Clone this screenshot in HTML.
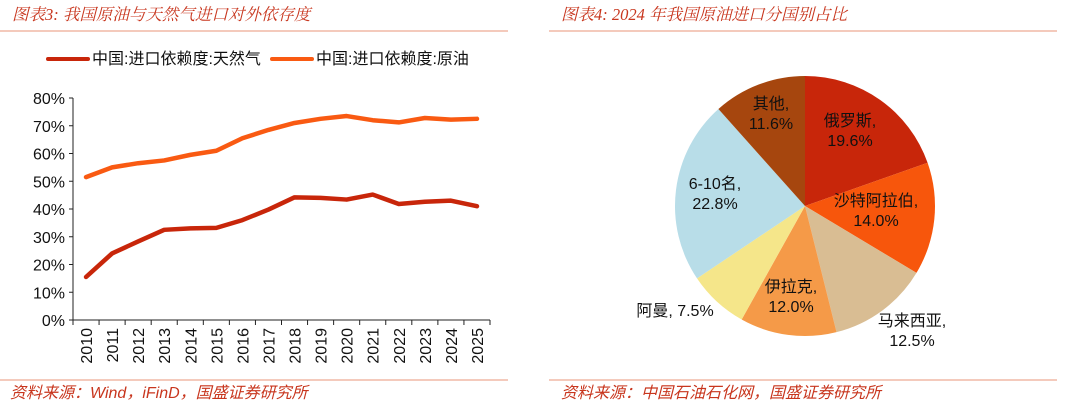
<!DOCTYPE html>
<html><head><meta charset="utf-8"><style>
body{margin:0;width:1080px;height:407px;background:#fff;overflow:hidden;font-family:"Liberation Sans","Noto Sans CJK SC",sans-serif}
svg{display:block}
.t{font-family:"Liberation Serif","Noto Serif CJK SC",serif;font-style:italic;fill:#c8361e;font-size:16.5px}
.s{font-family:"Liberation Sans","Noto Sans CJK SC",sans-serif;font-style:italic;fill:#c8361e;font-size:16px}
.ax{font-size:16px;fill:#111}
.pl{font-size:16px;fill:#111}
</style></head><body>
<svg id="c" width="1080" height="407">
<text class="t" x="12" y="20">图表3:  我国原油与天然气进口对外依存度</text>
<line x1="0" y1="31" x2="508" y2="31" stroke="#e9967a" stroke-width="1"/>
<text class="t" x="561" y="20">图表4:  2024 年我国原油进口分国别占比</text>
<line x1="549" y1="31" x2="1057" y2="31" stroke="#e9967a" stroke-width="1"/>
<line x1="0" y1="380" x2="508" y2="380" stroke="#e9967a"/>
<line x1="549" y1="380" x2="1057" y2="380" stroke="#e9967a"/>
<text class="s" x="10" y="398">资料来源：Wind，iFinD，国盛证券研究所</text>
<text class="s" x="561" y="398">资料来源：中国石油石化网，国盛证券研究所</text>
<g>
<line x1="48" y1="59" x2="88" y2="59" stroke="#c8260a" stroke-width="4" stroke-linecap="round"/>
<text x="92" y="64" class="pl">中国:进口依赖度:天然气</text>
<line x1="272" y1="59" x2="312" y2="59" stroke="#f95a12" stroke-width="4" stroke-linecap="round"/>
<text x="316" y="64" class="pl">中国:进口依赖度:原油</text>
</g>
<g id="line"></g>
<g id="pie"></g>
</svg>
<script>
const years=["2010","2011","2012","2013","2014","2015","2016","2017","2018","2019","2020","2021","2022","2023","2024","2025"];
const gasValues=[15.5,24,28.3,32.5,33,33.2,36,39.8,44.2,44,43.4,45.2,41.8,42.6,43,41];
const oilValues=[51.5,55,56.5,57.5,59.5,61,65.5,68.5,71,72.5,73.5,72,71.2,72.8,72.2,72.5];
const yTicks=[0,10,20,30,40,50,60,70,80];
const pieLabels=["俄罗斯","沙特阿拉伯","马来西亚","伊拉克","阿曼","6-10名","其他"];
const pieValues=[19.6,14.0,12.5,12.0,7.5,22.8,11.6];
const NS="http://www.w3.org/2000/svg";
function mk(t,a,p){const e=document.createElementNS(NS,t);for(const k in a)e.setAttribute(k,a[k]);p.appendChild(e);return e;}
const L=document.getElementById('line');
const x0=73,x1=490,yb=320,yt=98;
const sx=i=>x0+(x1-x0)*(i+0.5)/years.length;
const sy=v=>yb-(yb-yt)*v/80;
const yAxis=mk('line',{x1:x0,y1:yt,x2:x0,y2:yb,stroke:'#222'},L);


const xAxis=mk('line',{x1:x0,y1:yb,x2:x1,y2:yb,stroke:'#222'},L);


yTicks.forEach(v=>{
 mk('line',{x1:x0-4,y1:sy(v),x2:x0,y2:sy(v),stroke:'#222'},L);
 const t=mk('text',{x:x0-8,y:sy(v)+6,'text-anchor':'end',class:'ax'},L);t.textContent=v+'%';
 
 
});
for(let i=0;i<=years.length;i++){const x=x0+(x1-x0)*i/years.length;mk('line',{x1:x,y1:yb,x2:x,y2:yb+5,stroke:'#222'},L);}
years.forEach((y,i)=>{
 const t=mk('text',{x:0,y:0,class:'ax','text-anchor':'end',transform:`translate(${sx(i)+6},${yb+8}) rotate(-90)`},L);t.textContent=y;
 
 
});
[[oilValues,'#f95a12','oil-line'],[gasValues,'#c8260a','gas-line']].forEach(([d,c,n])=>{
 const p=mk('polyline',{points:d.map((v,i)=>sx(i)+','+sy(v)).join(' '),fill:'none',stroke:c,'stroke-width':4.5,'stroke-linejoin':'round','stroke-linecap':'round'},L);
 
 
});
const P=document.getElementById('pie');
const cx=805,cy=206,r=130;
const colors=['#c8260a','#f7560c','#d9bd93','#f59a48','#f5e68a','#b8dde8','#a6460e'];
const labelPos=[[850,126],[876,206],[912,326],[791,292],[675,316],[715,189],[771,109]];
const total=pieValues.reduce((a,b)=>a+b,0);
let a=0;
pieValues.forEach((v,i)=>{
 const a1=a+v/total*2*Math.PI;
 const p0=[cx+r*Math.sin(a),cy-r*Math.cos(a)],p1=[cx+r*Math.sin(a1),cy-r*Math.cos(a1)];
 const s=mk('path',{d:`M${cx},${cy}L${p0[0]},${p0[1]}A${r},${r} 0 ${a1-a>Math.PI?1:0} 1 ${p1[0]},${p1[1]}Z`,fill:colors[i]},P);
 
 
 a=a1;
 const [lx,ly]=labelPos[i];
 const t=mk('text',{x:lx,y:ly,'text-anchor':'middle',class:'pl'},P);
 
 
 if(i===4){t.textContent=pieLabels[i]+', '+v.toFixed(1)+'%';}
 else{
  const t1=mk('tspan',{x:lx,dy:0},t);t1.textContent=pieLabels[i]+',';
  const t2=mk('tspan',{x:lx,dy:20},t);t2.textContent=v.toFixed(1)+'%';
 }
});
</script>
</body></html>
